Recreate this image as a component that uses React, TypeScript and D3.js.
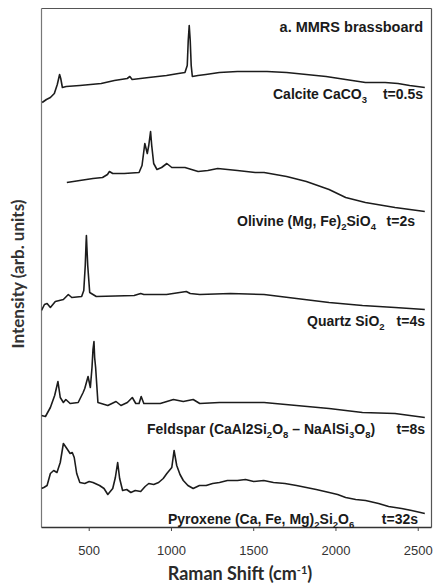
import React from "react";
import { scaleLinear, line, curveLinear } from "d3";

// Raman shift (cm-1) / intensity (arb. units, stacked with offsets)
const calcite: [number, number][] = [
  [214, 425], [240, 428], [264, 430], [288, 434], [306, 443], [320, 453], [327, 449],
  [337, 440], [360, 441], [443, 442], [573, 444], [653, 447], [731, 449], [747, 451],
  [761, 448], [862, 450], [970, 452], [1042, 454], [1082, 455], [1096, 462], [1102, 487],
  [1108, 502], [1114, 487], [1120, 462], [1127, 451], [1161, 452], [1209, 453], [1291, 455],
  [1401, 456], [1581, 456], [1700, 455], [1820, 453], [1940, 451], [2059, 448], [2179, 445],
  [2299, 445], [2377, 444], [2448, 442], [2540, 440],
];

const olivine: [number, number][] = [
  [364, 345], [443, 347], [523, 349], [581, 350], [611, 353], [623, 356], [643, 354],
  [713, 354], [803, 355], [821, 362], [838, 384], [853, 374], [862, 382], [873, 396],
  [880, 382], [892, 364], [912, 358], [940, 360], [972, 364], [1002, 360], [1082, 360],
  [1162, 356], [1221, 357], [1281, 359], [1401, 357], [1509, 355], [1563, 355], [1700, 351],
  [1820, 346], [1958, 338], [2059, 330], [2179, 325], [2359, 320], [2540, 316],
];

const quartz: [number, number][] = [
  [210, 217], [228, 223], [244, 224], [264, 220], [294, 226], [343, 228], [373, 233],
  [394, 230], [454, 231], [467, 237], [476, 262], [481, 285], [483, 292], [486, 280],
  [491, 262], [503, 235], [543, 231], [773, 232], [813, 234], [832, 233], [970, 233],
  [1090, 236], [1114, 234], [1172, 233], [1359, 234], [1563, 233], [1760, 229], [1958, 225],
  [2161, 222], [2359, 220], [2540, 218],
];

const feldspar: [number, number][] = [
  [210, 112], [234, 111], [264, 120], [290, 132], [310, 146], [324, 130], [343, 125],
  [358, 128], [384, 124], [433, 125], [463, 135], [473, 139], [493, 151], [507, 140],
  [517, 160], [523, 178], [529, 186], [533, 170], [539, 160], [553, 125], [613, 122],
  [663, 126], [693, 122], [732, 125], [762, 130], [783, 124], [803, 124], [816, 131],
  [832, 124], [932, 124], [1012, 128], [1072, 126], [1132, 128], [1172, 124], [1292, 125],
  [1563, 125], [1760, 122], [1958, 119], [2161, 115], [2359, 114], [2540, 110],
];

const pyroxene: [number, number][] = [
  [210, 39], [224, 40], [244, 42], [264, 54], [284, 57], [304, 55], [324, 65], [334, 75],
  [343, 84], [364, 79], [384, 74], [397, 75], [409, 70], [424, 54], [443, 45], [473, 44],
  [500, 46], [523, 45], [563, 42], [590, 39], [613, 33], [643, 39], [659, 50], [673, 65],
  [685, 49], [703, 37], [728, 38], [753, 35], [780, 37], [813, 36], [840, 41], [862, 44],
  [892, 43], [922, 45], [950, 49], [972, 54], [1002, 60], [1016, 77], [1032, 62], [1052, 53],
  [1072, 47], [1100, 42], [1132, 39], [1170, 42], [1211, 42], [1250, 44], [1292, 45],
  [1340, 47], [1401, 47], [1450, 48], [1500, 46], [1561, 47], [1620, 45], [1690, 44],
  [1760, 42], [1820, 40], [1880, 38], [1959, 35], [2010, 33], [2059, 30], [2120, 28],
  [2180, 27], [2259, 24], [2320, 21], [2399, 19], [2460, 17], [2540, 14],
];

const spectra = [calcite, olivine, quartz, feldspar, pyroxene];
const xTicks = [500, 1000, 1500, 2000, 2500];

type Seg = { t: string; sub?: boolean };
const labelNames: Seg[][] = [
  [{ t: "Calcite CaCO" }, { t: "3", sub: true }],
  [{ t: "Olivine (Mg, Fe)" }, { t: "2", sub: true }, { t: "SiO" }, { t: "4", sub: true }],
  [{ t: "Quartz SiO" }, { t: "2", sub: true }],
  [
    { t: "Feldspar (CaAl2Si" }, { t: "2", sub: true }, { t: "O" }, { t: "8", sub: true },
    { t: " \u2013 NaAlSi" }, { t: "3", sub: true }, { t: "O" }, { t: "8", sub: true }, { t: ")" },
  ],
  [
    { t: "Pyroxene (Ca, Fe, Mg)" }, { t: "2", sub: true }, { t: "Si" }, { t: "2", sub: true },
    { t: "O" }, { t: "6", sub: true },
  ],
];
const labelTimes = ["t=0.5s", "t=2s", "t=4s", "t=8s", "t=32s"];

// label placement (px)
const labelPos = [
  { x: 273, tx: 423, y: 99 },
  { x: 237, tx: 415, y: 226 },
  { x: 307, tx: 425, y: 326 },
  { x: 147, tx: 425, y: 434 },
  { x: 168, tx: 418, y: 524 },
];

const left = 41.5, right = 431.5, top = 8.5, bottom = 527.5;

export default function App() {
  const x = scaleLinear().domain([210, 2540]).range([left, right - 6.7]);
  const y = scaleLinear().domain([0, 519]).range([bottom, top]);
  const path = line<[number, number]>()
    .x((d) => x(d[0]))
    .y((d) => y(d[1]))
    .curve(curveLinear);

  const font = "'Liberation Sans', Arial, sans-serif";
  const fs = 14;

  return (
    <svg width={438} height={584} style={{ display: "block", position: "absolute", left: 0, top: 0 }}>
      <rect width={438} height={584} fill="#fff" />
      <defs>
        <clipPath id="plot">
          <rect x={left} y={top} width={right - left} height={bottom - top} />
        </clipPath>
      </defs>

      {/* frame */}
      <line x1={left} x2={right} y1={top} y2={top} stroke="#555" strokeWidth={1.2} />
      <line x1={right} x2={right} y1={top} y2={bottom} stroke="#555" strokeWidth={1.2} />
      <line x1={left} x2={left} y1={top} y2={bottom} stroke="#777" strokeWidth={1.2} />
      <line x1={left} x2={right} y1={bottom} y2={bottom} stroke="#333" strokeWidth={1.4} />

      {xTicks.map((t) => (
        <g key={t}>
          <line x1={x(t)} x2={x(t)} y1={bottom} y2={bottom + 3.5} stroke="#444" strokeWidth={1} />
          <text x={x(t)} y={555} textAnchor="middle" fontFamily={font} fontSize={13} fill="#333">
            {t}
          </text>
        </g>
      ))}

      <g clipPath="url(#plot)">
        {spectra.map((s, i) => (
          <path key={i} d={path(s) ?? ""} fill="none" stroke="#1c1c1c" strokeWidth={1.6} strokeLinejoin="round" />
        ))}
      </g>

      <text x={423} y={32} textAnchor="end" fontFamily={font} fontSize={fs + 0.5} fontWeight="bold" fill="#1a1a1a">
        a. MMRS brassboard
      </text>

      {labelNames.map((segs, i) => (
        <g key={i} fontFamily={font} fontWeight="bold" fill="#1a1a1a">
          <text x={labelPos[i].x} y={labelPos[i].y} fontSize={fs}>
            {segs.map((s, j) => (
              <tspan key={j} dy={s.sub ? 4 : j > 0 && segs[j - 1].sub ? -4 : 0} fontSize={s.sub ? 9.5 : fs}>
                {s.t}
              </tspan>
            ))}
          </text>
          <text x={labelPos[i].tx} y={labelPos[i].y} textAnchor="end" fontSize={fs}>
            {labelTimes[i]}
          </text>
        </g>
      ))}

      <text
        transform="translate(24,274) rotate(-90)"
        textAnchor="middle"
        fontFamily="Lato, 'Open Sans', sans-serif"
        fontWeight="bold"
        fontSize={17}
        fill="#333"
      >
        Intensity (arb. units)
      </text>

      <text x={240} y={580} textAnchor="middle" fontFamily="Lato, 'Open Sans', sans-serif" fontWeight="bold" fontSize={18} fill="#2a2a2a">
        Raman Shift (cm
        <tspan dy={-6} fontSize={11}>-1</tspan>
        <tspan dy={6}>)</tspan>
      </text>
    </svg>
  );
}
